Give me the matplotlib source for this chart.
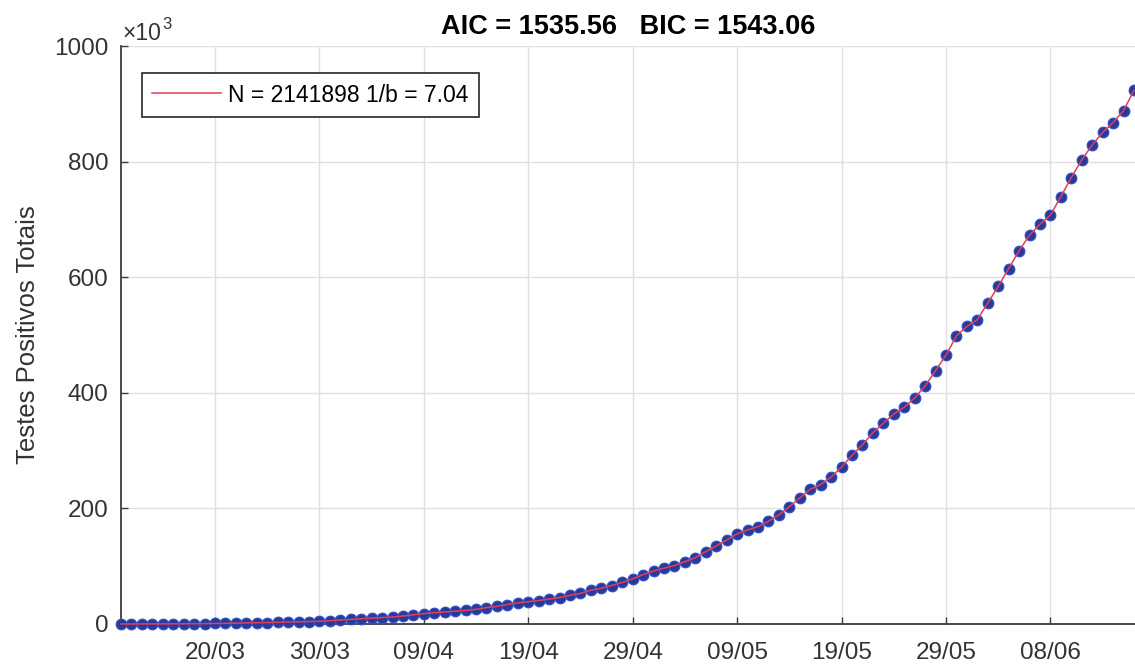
import numpy as np
import matplotlib
matplotlib.use('Agg')
import matplotlib.pyplot as plt
import matplotlib.dates as mdates

plt.rcParams['font.family'] = ['Liberation Sans', 'DejaVu Sans']

# dados: casos acumulados, um por dia a partir de 11/03
inicio = np.datetime64('2020-03-11')
datas = np.arange(inicio, np.datetime64('2020-06-17'))
casos = [52, 77, 98, 121, 200, 234, 291, 428, 621, 904,
         1128, 1546, 1891, 2201, 2433, 2915, 3417, 3904, 4256, 4579,
         5717, 6836, 7910, 9056, 10278, 11130, 12056, 13717, 15927, 17857,
         19638, 20727, 22169, 23430, 25262, 28320, 30425, 33682, 36599, 38654,
         40581, 43079, 45757, 49492, 52995, 58509, 61888, 66501, 71886, 78162,
         85380, 91589, 96559, 101147, 107780, 114715, 125218, 135106, 145328, 155939,
         162699, 168331, 177589, 188974, 202918, 218223, 233142, 241080, 254220, 271628,
         291579, 310087, 330890, 347398, 363211, 374898, 391222, 411821, 438238, 465166,
         498440, 514849, 526447, 555383, 584016, 614941, 645771, 672846, 691758, 707412,
         739503, 772416, 802828, 828810, 850514, 867624, 888271, 923189]

ticks_x = ['2020-03-20', '2020-03-30', '2020-04-09', '2020-04-19', '2020-04-29',
           '2020-05-09', '2020-05-19', '2020-05-29', '2020-06-08']
rotulos_x = ['20/03', '30/03', '09/04', '19/04', '29/04', '09/05', '19/05', '29/05', '08/06']
ticks_y = [0, 200, 400, 600, 800, 1000]

legenda = 'N = 2141898 1/b = 7.04'
titulo = 'AIC = 1535.56   BIC = 1543.06'

fig = plt.figure(figsize=(11.35, 6.68), dpi=100)
ax = fig.add_axes([0.1066, 0.0659, 0.8934, 0.8652])

x = mdates.date2num(datas)
y = np.array(casos) / 1e3

ax.plot(x, y, 'o', ms=7.6, mfc='#2c3896', mec='#3050c8', mew=0.9,
        clip_on=False, zorder=3)
ax.plot(x, y, '-', color='#e0405a', lw=1.1, clip_on=False, zorder=4, label=legenda)

x0 = mdates.date2num(inicio)
ax.set_xlim(x0, x0 + 97.1)
ax.set_ylim(0, 1000)
ax.set_xticks(mdates.date2num(np.array(ticks_x, dtype='datetime64[D]')))
ax.set_xticklabels(rotulos_x)
ax.set_yticks(ticks_y)

ax.grid(True, color='#e0e0e0', lw=1.0)
ax.set_axisbelow(True)
for s in ['top', 'right']:
    ax.spines[s].set_visible(False)
for s in ['left', 'bottom']:
    ax.spines[s].set_color('#3c3c3c')
    ax.spines[s].set_linewidth(1.3)

ax.tick_params(direction='in', length=5, width=1, color='#3c3c3c',
               labelcolor='#333333', labelsize=17.5)
ax.tick_params(axis='x', pad=13)
ax.tick_params(axis='y', pad=9)

ax.set_ylabel('Testes Positivos Totais', fontsize=18.5, labelpad=10, color='#333333')
ax.set_title(titulo, fontsize=19.5, fontweight='bold', pad=9)

# multiplicador do eixo y
ax.annotate('×10', xy=(0, 1), xycoords='axes fraction', xytext=(1, 0.5),
            textcoords='offset points', fontsize=16.5, color='#333333',
            ha='left', va='bottom')
ax.annotate('3', xy=(0, 1), xycoords='axes fraction', xytext=(30, 10),
            textcoords='offset points', fontsize=12, color='#333333',
            ha='left', va='bottom')

leg = ax.legend(loc='upper left', bbox_to_anchor=(0.0207, 0.953), borderaxespad=0,
                fontsize=16.5, fancybox=False, edgecolor='#262626', framealpha=1,
                handlelength=3.0, handletextpad=0.3, borderpad=0.45)
leg.get_frame().set_linewidth(1.2)

fig.savefig('out.png', dpi=100)
